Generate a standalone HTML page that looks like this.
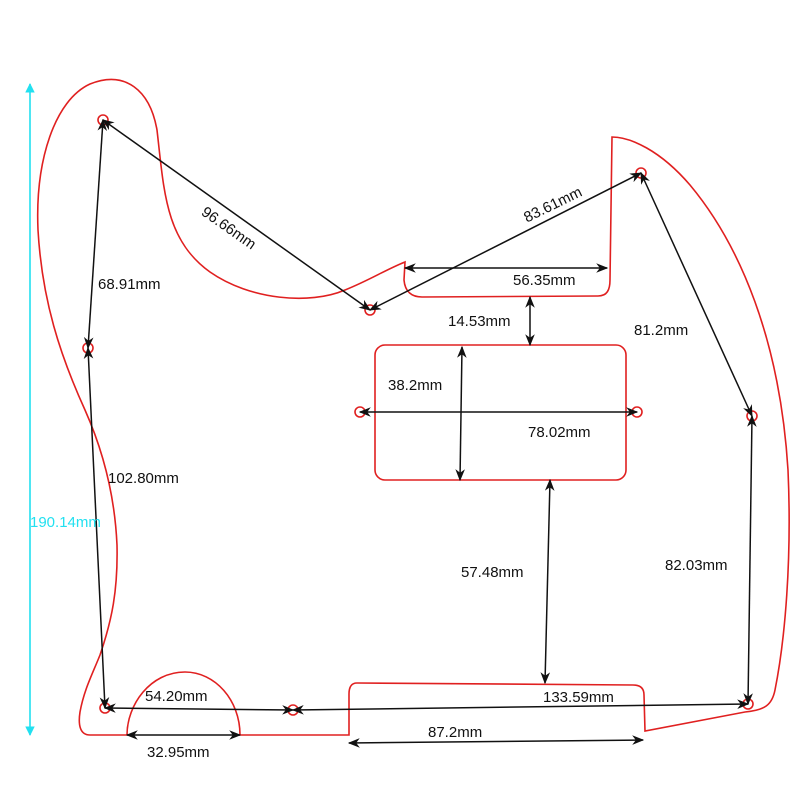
<!DOCTYPE html>
<html><head><meta charset="utf-8"><style>html,body{margin:0;padding:0;background:#fff;}svg{display:block}</style></head>
<body>
<svg width="800" height="800" viewBox="0 0 800 800" xmlns="http://www.w3.org/2000/svg" font-family="Liberation Sans, sans-serif">
<defs>
<marker id="a" viewBox="0 0 10 10" refX="9" refY="5" markerWidth="8" markerHeight="8" orient="auto-start-reverse"><path d="M0,1 L10,5 L0,9 L3,5 z" fill="#111"/></marker>
<marker id="c" viewBox="0 0 10 10" refX="9" refY="5" markerWidth="6" markerHeight="6" orient="auto-start-reverse"><path d="M0,0 L10,5 L0,10 z" fill="#22e0f0"/></marker>
</defs>
<g fill="none" stroke="#e02020" stroke-width="1.6">
<path d="M90,735 C80,735 78,725 80,712 C84,690 92,675 100,655 C112,620 118,590 117,545 C115,500 105,455 85,410 C60,355 42,300 38,230 C35,160 55,100 90,84 C125,70 150,90 157,130 C164,190 165,240 210,272 C250,300 310,305 345,290 C370,280 385,270 405,262 L404,280 C405,292 412,297 422,297 L598,296 C607,296 610,290 610,280 L612,137 C630,137 660,150 690,185 C740,245 780,340 788,470 C792,560 785,640 775,690 C772,705 765,710 745,712 L645,731 L644,695 C644,688 640,685 633,685 L357,683 C351,683 349,688 349,694 L349,735 L240,735 C240,700 215,672 185,672 C150,672 127,705 127,735 Z"/>
<rect x="375" y="345" width="251" height="135" rx="10"/>
<circle cx="103" cy="120" r="5"/><circle cx="88" cy="348" r="5"/><circle cx="105" cy="708" r="5"/><circle cx="293" cy="710" r="5"/>
<circle cx="370" cy="310" r="5"/><circle cx="641" cy="173" r="5"/><circle cx="752" cy="416" r="5"/><circle cx="748" cy="704" r="5"/>
<circle cx="360" cy="412" r="5"/><circle cx="637" cy="412" r="5"/>
</g>
<line x1="30" y1="84" x2="30" y2="735" stroke="#22e0f0" stroke-width="1.6" marker-start="url(#c)" marker-end="url(#c)"/>
<g stroke="#111" stroke-width="1.5" marker-start="url(#a)" marker-end="url(#a)">
<line x1="103" y1="120" x2="370" y2="310"/>
<line x1="103" y1="120" x2="88" y2="348"/>
<line x1="88" y1="348" x2="105" y2="708"/>
<line x1="370" y1="310" x2="641" y2="173"/>
<line x1="405" y1="268" x2="607" y2="268"/>
<line x1="530" y1="297" x2="530" y2="345"/>
<line x1="462" y1="347" x2="460" y2="480"/>
<line x1="360" y1="412" x2="637" y2="412"/>
<line x1="641" y1="173" x2="752" y2="416"/>
<line x1="752" y1="416" x2="748" y2="704"/>
<line x1="550" y1="480" x2="545" y2="683"/>
<line x1="105" y1="708" x2="293" y2="710"/>
<line x1="293" y1="710" x2="748" y2="704"/>
<line x1="127" y1="735" x2="240" y2="735"/>
<line x1="349" y1="743" x2="643" y2="740"/>
</g>
<g font-size="15" fill="#111">
<text x="226" y="232" transform="rotate(35 226 232)" text-anchor="middle">96.66mm</text>
<text x="555" y="209" transform="rotate(-26 555 209)" text-anchor="middle">83.61mm</text>
<text x="98" y="289">68.91mm</text>
<text x="513" y="285">56.35mm</text>
<text x="448" y="326">14.53mm</text>
<text x="634" y="335">81.2mm</text>
<text x="388" y="390">38.2mm</text>
<text x="528" y="437">78.02mm</text>
<text x="108" y="483">102.80mm</text>
<text x="461" y="577">57.48mm</text>
<text x="665" y="570">82.03mm</text>
<text x="145" y="701">54.20mm</text>
<text x="543" y="702">133.59mm</text>
<text x="428" y="737">87.2mm</text>
<text x="147" y="757">32.95mm</text>
</g>
<text x="30" y="527" font-size="15" fill="#22e0f0">190.14mm</text>
</svg>
</body></html>
